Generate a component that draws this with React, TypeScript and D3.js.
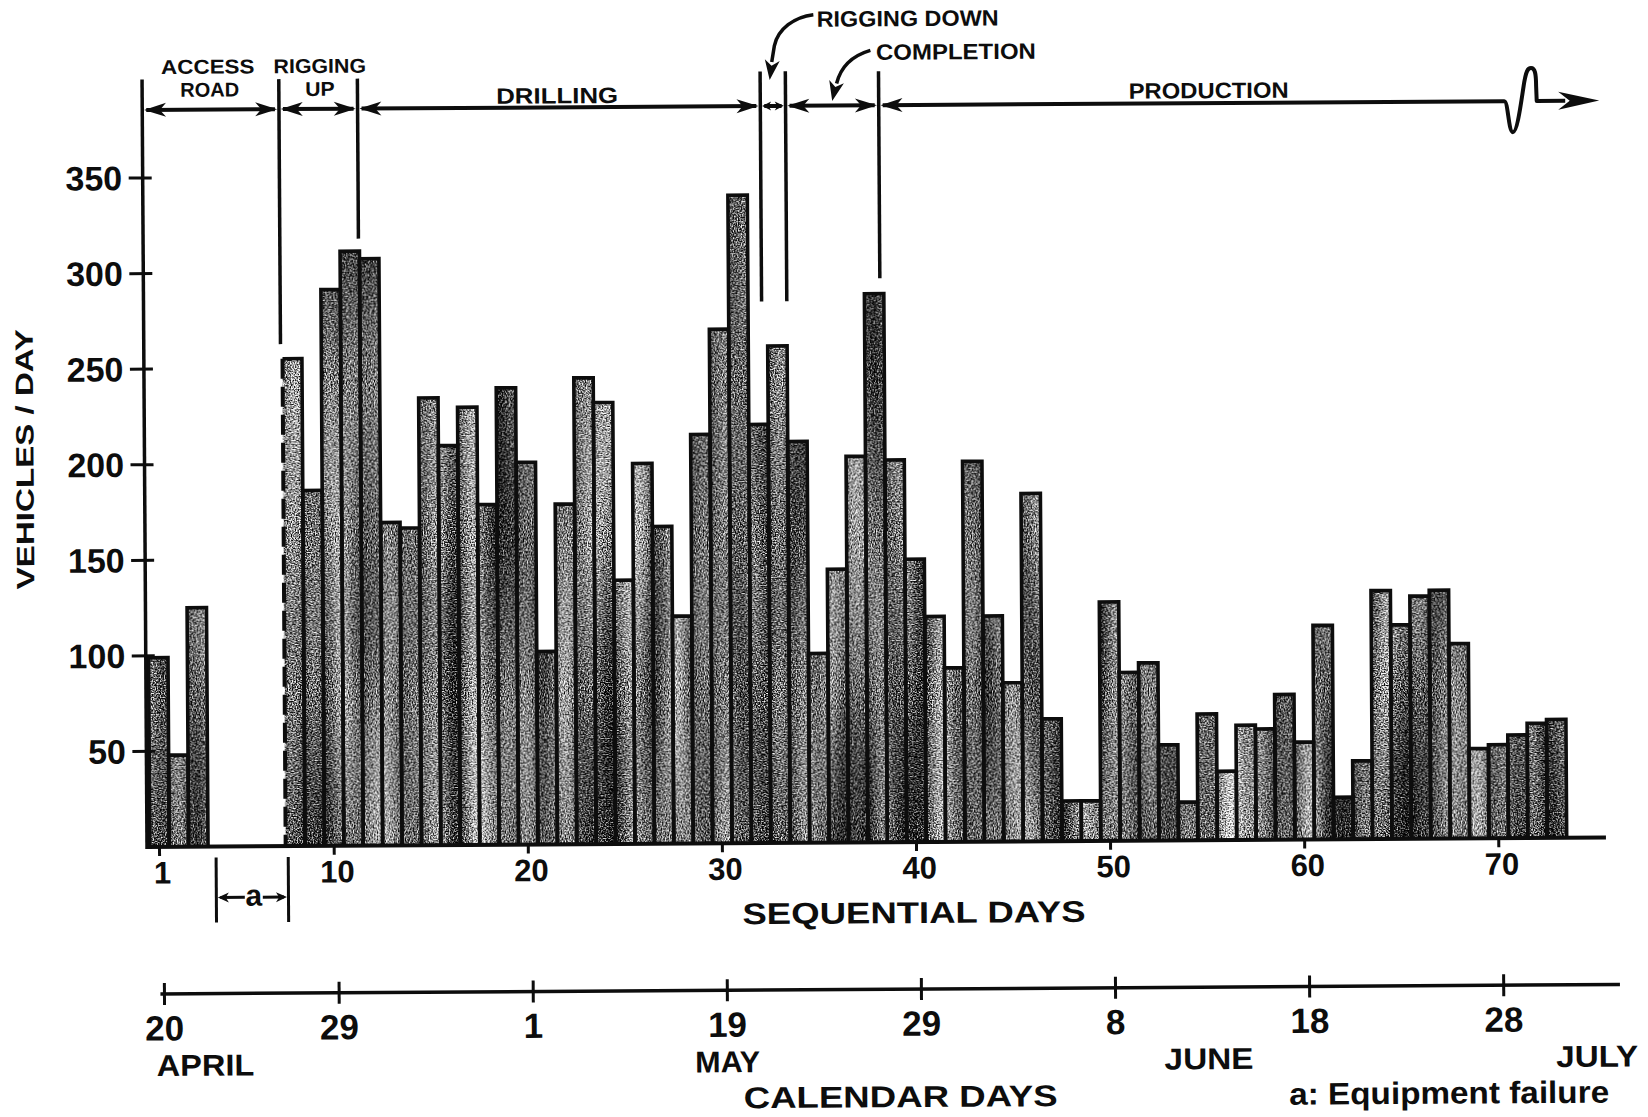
import React from "react";
import * as d3 from "d3";

// ---- data ----
const days = [1, 2, 3, 8, 9, 10, 11, 12, 13, 14, 15, 16, 17, 18, 19, 20, 21, 22, 23, 24, 25, 26, 27, 28, 29, 30, 31, 32, 33, 34, 35, 36, 37, 38, 39, 40, 41, 42, 43, 44, 45, 46, 47, 48, 49, 50, 51, 52, 53, 54, 55, 56, 57, 58, 59, 60, 61, 62, 63, 64, 65, 66, 67, 68, 69, 70, 71, 72, 73];
const vehicles = [99, 48, 125, 255, 186, 291, 311, 307, 169, 166, 234, 209, 229, 178, 239, 200, 101, 178, 244, 231, 138, 199, 166, 119, 214, 269, 339, 219, 260, 210, 99, 143, 202, 287, 200, 148, 118, 91, 199, 118, 83, 182, 64, 21, 21, 125, 88, 93, 50, 20, 66, 36, 60, 58, 76, 51, 112, 22, 41, 130, 112, 127, 130, 102, 47, 49, 54, 60, 62];
const yTicks = [50, 100, 150, 200, 250, 300, 350];
const seqTicks = [1, 10, 20, 30, 40, 50, 60, 70];
const calendarTickDays = [1, 10, 20, 30, 40, 50, 60, 70];
const calendarLabels = ["20", "29", "1", "19", "29", "8", "18", "28"];
const months = ["APRIL", "MAY", "JUNE", "JULY"];
const monthCenterDays = [3.3, 30.2, 55, 75];
// phase boundaries in sequential days: rigging up, drilling, rigging down, completion, production
const phaseBoundaryDays = [7.4, 11.45, 32.2, 33.5, 38.3];

const W = 1648;
const H = 1117;
const FONT = "'Liberation Sans', Arial, sans-serif";
const INK = "#0d0d0d";

const x = d3.scaleLinear().domain([1, 73]).range([159.5, 1557]);
const step = x(2) - x(1);
const y = d3.scaleLinear().domain([0, 350]).range([847, 178]);
const Y0 = y(0);
const AX = 147;
const AY = 110; // phase arrow line

function head(tx: number, ty: number, angDeg: number, len: number, hw: number) {
  const a = (angDeg * Math.PI) / 180;
  const dx = Math.cos(a), dy = Math.sin(a);
  const bx = tx - dx * len, by = ty - dy * len;
  const nx = tx - dx * len * 0.72, ny = ty - dy * len * 0.72;
  const px = -dy, py = dx;
  return `M${tx},${ty}L${bx + px * hw},${by + py * hw}L${nx},${ny}L${bx - px * hw},${by - py * hw}Z`;
}

function T(props: any) {
  const { children, ...rest } = props;
  return (
    <text fontFamily={FONT} fontWeight="bold" fill={INK} {...rest}>
      {children}
    </text>
  );
}

export default function App() {
  const bars = days.map((d, i) => ({ d, v: vehicles[i] }));
  const daySet = new Set(days);

  const bounds = [AX, ...phaseBoundaryDays.map((d) => x(d))];
  const prodStart = bounds[bounds.length - 1];

  const phaseArrows = bounds.slice(0, -1).map((a, i) => {
    const b = bounds[i + 1];
    const small = b - a < 40;
    const len = small ? 9 : 22;
    const hw = small ? 4.5 : 7;
    return (
      <g key={"pa" + i}>
        <path d={`M${a + 4},${AY}H${b - 4}`} stroke={INK} strokeWidth={4} />
        <path d={head(a + 1.8, AY, 180, len, hw)} fill={INK} />
        <path d={head(b - 1.8, AY, 0, len, hw)} fill={INK} />
      </g>
    );
  });

  const squiggle = `M${prodStart + 4},${AY}H1509C1513,${AY} 1513,141 1517.5,141C1522,141 1526,${AY} 1528.5,95C1531,79 1533,77 1536,77C1540,77 1541,82 1541,95L1541.5,${AY}H1570`;

  return (
    <svg
      width={W}
      height={H}
      viewBox={`0 0 ${W} ${H}`}
      style={{ position: "absolute", left: 0, top: 0, background: "#fff" }}
    >
      <defs>
        <filter
          id="halftone"
          filterUnits="userSpaceOnUse"
          x={0}
          y={0}
          width={W}
          height={H}
          colorInterpolationFilters="sRGB"
        >
          <feTurbulence type="fractalNoise" baseFrequency="0.75" numOctaves={1} seed={3} result="f0" />
          <feColorMatrix in="f0" type="matrix" values="1 0 0 0 0 1 0 0 0 0 1 0 0 0 0 0 0 0 0 1" result="fine" />
          <feTurbulence type="fractalNoise" baseFrequency="0.045 0.003" numOctaves={1} seed={17} result="c0" />
          <feColorMatrix in="c0" type="matrix" values="1 0 0 0 0 1 0 0 0 0 1 0 0 0 0 0 0 0 0 1" result="coarse" />
          <feComposite in="fine" in2="coarse" operator="arithmetic" k1={0} k2={1} k3={0.45} k4={-0.25} result="mix" />
          <feComponentTransfer in="mix" result="tone">
            <feFuncR type="linear" slope={2.9} intercept={-0.96} />
            <feFuncG type="linear" slope={2.9} intercept={-0.96} />
            <feFuncB type="linear" slope={2.9} intercept={-0.96} />
          </feComponentTransfer>
          <feComposite in="tone" in2="SourceAlpha" operator="in" />
        </filter>
      </defs>
      <rect width={W} height={H} fill="#fff" />
      <g transform={`rotate(-0.37 ${AX} ${Y0})`}>
        {/* bars: textured fill */}
        <g filter="url(#halftone)">
          {bars.map(({ d, v }) => (
            <rect key={"b" + d} x={x(d) - step / 2} y={y(v)} width={step} height={Y0 - y(v)} fill="#777" />
          ))}
        </g>
        {/* bar outlines */}
        <g fill="none" stroke={INK} strokeWidth={3.6} strokeLinejoin="miter">
          {bars.map(({ d, v }) => {
            const l = x(d) - step / 2;
            const r = x(d) + step / 2;
            const t = y(v);
            const afterGap = d > 1 && !daySet.has(d - 1);
            return afterGap ? (
              <g key={"o" + d}>
                <path d={`M${l},${t}H${r}V${Y0}`} />
                <path d={`M${l},${t}V${Y0}`} strokeWidth={4} strokeDasharray="20 8" />
              </g>
            ) : (
              <path key={"o" + d} d={`M${l},${Y0}V${t}H${r}V${Y0}`} />
            );
          })}
        </g>

        {/* y axis */}
        <path d={`M${AX},79.5V${Y0 + 2}`} stroke={INK} strokeWidth={3.5} />
        {yTicks.map((t) => (
          <g key={"yt" + t}>
            <path d={`M${AX - 14},${y(t)}H${AX + 9}`} stroke={INK} strokeWidth={3} />
            <T x={126.5} y={y(t) + 12} fontSize={34} textAnchor="end">
              {t}
            </T>
          </g>
        ))}
        <T
          transform="translate(36,458.5) rotate(-90)"
          fontSize={25}
          textAnchor="middle"
          textLength={260}
          lengthAdjust="spacingAndGlyphs"
        >
          VEHICLES / DAY
        </T>

        {/* x axis (sequential days) */}
        <path d={`M${AX},${Y0}H1606`} stroke={INK} strokeWidth={4} />
        {seqTicks.map((t) => (
          <g key={"xt" + t}>
            <path d={`M${x(t)},${Y0}V${Y0 + 9}`} stroke={INK} strokeWidth={3} />
            <T x={x(t) + 3} y={883.5} fontSize={31} textAnchor="middle">
              {t}
            </T>
          </g>
        ))}
        <T x={913.5} y={928} fontSize={30} textAnchor="middle" textLength={343} lengthAdjust="spacingAndGlyphs">
          SEQUENTIAL DAYS
        </T>

        {/* equipment failure gap marker */}
        <g stroke={INK} strokeWidth={3}>
          <path d={`M${x(3.5) + 8},858V923`} />
          <path d={`M${x(7.5) + 2.5},858V923`} />
          <path d={`M${x(3.5) + 12},898H244.5`} />
          <path d={`M262.5,898H${x(7.5) - 2}`} />
        </g>
        <path d={head(x(3.5) + 9.5, 898, 180, 11, 5)} fill={INK} />
        <path d={head(x(7.5) + 1, 898, 0, 11, 5)} fill={INK} />
        <T x={253.5} y={906.5} fontSize={30} textAnchor="middle">
          a
        </T>

        {/* calendar axis */}
        <path d={`M${x(1)},994H1619`} stroke={INK} strokeWidth={3.5} />
        {calendarTickDays.map((d, i) => (
          <g key={"ct" + i}>
            <path d={`M${x(d) + 4},983V1005`} stroke={INK} strokeWidth={3} />
            <T x={x(d) + 4} y={1040.5} fontSize={35} textAnchor="middle">
              {calendarLabels[i]}
            </T>
          </g>
        ))}
        {months.map((m, i) => (
          <T
            key={m}
            x={x(monthCenterDays[i])}
            y={1076}
            fontSize={30}
            textAnchor="middle"
            textLength={[97.5, 65, 89, 82][i]}
            lengthAdjust="spacingAndGlyphs"
          >
            {m}
          </T>
        ))}
        <T x={899} y={1112} fontSize={30} textAnchor="middle" textLength={314} lengthAdjust="spacingAndGlyphs">
          CALENDAR DAYS
        </T>
        <T x={1287.5} y={1112} fontSize={31} textLength={320} lengthAdjust="spacingAndGlyphs">
          a: Equipment failure
        </T>

        {/* phase boundary lines */}
        <g stroke={INK} strokeWidth={3.5}>
          <path d={`M${bounds[1]},80V345`} />
          <path d={`M${bounds[2]},80V240`} />
          <path d={`M${bounds[3]},75.5V305.5`} />
          <path d={`M${bounds[4]},75.5V305.5`} />
          <path d={`M${bounds[5]},76V283`} />
        </g>
        {phaseArrows}
        {/* production arrow with break */}
        <path d={squiggle} fill="none" stroke={INK} strokeWidth={4} strokeLinejoin="round" />
        <path d={head(prodStart + 1.8, AY, 180, 22, 7)} fill={INK} />
        <path d={head(1604, AY, 0, 41, 9)} fill={INK} />

        {/* phase labels */}
        <T x={212.8} y={74} fontSize={20} textAnchor="middle" textLength={93.5} lengthAdjust="spacingAndGlyphs">
          ACCESS
        </T>
        <T x={214.5} y={97} fontSize={20} textAnchor="middle" textLength={59} lengthAdjust="spacingAndGlyphs">
          ROAD
        </T>
        <T x={324.8} y={74} fontSize={20} textAnchor="middle" textLength={92.5} lengthAdjust="spacingAndGlyphs">
          RIGGING
        </T>
        <T x={324.8} y={97} fontSize={20} textAnchor="middle" textLength={29.5} lengthAdjust="spacingAndGlyphs">
          UP
        </T>
        <T x={562} y={106} fontSize={22} textAnchor="middle" textLength={122} lengthAdjust="spacingAndGlyphs">
          DRILLING
        </T>
        <T x={1213.5} y={105} fontSize={22} textAnchor="middle" textLength={160} lengthAdjust="spacingAndGlyphs">
          PRODUCTION
        </T>
        <T x={822} y={31} fontSize={22} textLength={182} lengthAdjust="spacingAndGlyphs">
          RIGGING DOWN
        </T>
        <T x={881} y={64.5} fontSize={22} textLength={160} lengthAdjust="spacingAndGlyphs">
          COMPLETION
        </T>

        {/* pointer arrows */}
        <path d="M818.7,19C800,21 783,33 779.5,50L776.8,66" fill="none" stroke={INK} strokeWidth={3.5} />
        <path d={head(774.6, 84, 97.9, 20, 7.5)} fill={INK} />
        <path d="M875.5,55C858,60 846,70 841.5,88" fill="none" stroke={INK} strokeWidth={3.5} />
        <path d={head(837, 105.5, 103, 20, 7.5)} fill={INK} />
      </g>
    </svg>
  );
}
